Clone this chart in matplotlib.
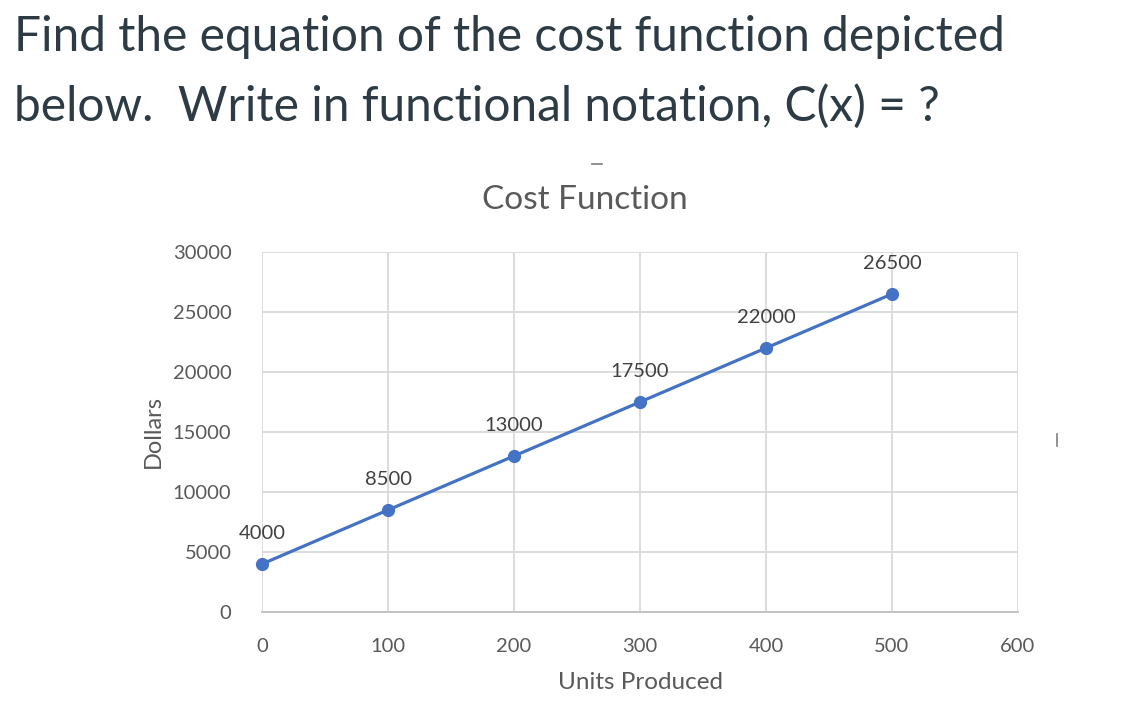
import matplotlib
matplotlib.use('Agg')
import matplotlib.pyplot as plt
from matplotlib.lines import Line2D

# data
units = [0, 100, 200, 300, 400, 500]
dollars = [4000, 8500, 13000, 17500, 22000, 26500]
x_ticks = [0, 100, 200, 300, 400, 500, 600]
y_ticks = [0, 5000, 10000, 15000, 20000, 25000, 30000]

chart_font = ['Lato', 'DejaVu Sans']
grey = '#595959'
blue = '#4472C4'

fig = plt.figure(figsize=(11.4, 7.18), dpi=100)
fig.patch.set_facecolor('white')

# question text above the chart
q_font = dict(family=['Lato', 'DejaVu Sans'], size=34.5, color='#2D3B45')
fig.text(14 / 1140, 1 - 37 / 718, 'Find the equation of the cost function depicted',
         va='center', ha='left', **q_font)
fig.text(14 / 1140, 1 - 106 / 718, 'below.  Write in functional notation, C(x) = ?',
         va='center', ha='left', **q_font)

ax = fig.add_axes([262 / 1140, 1 - 612 / 718, 756 / 1140, 360 / 718])
ax.plot(units, dollars, color=blue, lw=2.3, marker='o', ms=8.5, zorder=3,
        clip_on=False)
for u, d in zip(units, dollars):
    ax.annotate(str(d), (u, d), xytext=(0, 22), textcoords='offset points',
                ha='center', va='center', fontsize=14.5, color='#404040',
                family=chart_font)

ax.set_xlim(0, 600)
ax.set_ylim(0, 30000)
ax.set_xticks(x_ticks)
ax.set_yticks(y_ticks)
ax.set_xticklabels([str(t) for t in x_ticks], family=chart_font)
ax.set_yticklabels([str(t) for t in y_ticks], family=chart_font)
ax.tick_params(axis='both', length=0, labelsize=14.5, labelcolor=grey)
ax.tick_params(axis='x', pad=19)
ax.tick_params(axis='y', pad=22)
ax.grid(True, color='#D9D9D9', lw=1.3)
ax.set_axisbelow(True)
for s in ['top', 'right', 'left']:
    ax.spines[s].set_visible(False)
ax.spines['bottom'].set_color('#BFBFBF')
ax.spines['bottom'].set_linewidth(1.3)

ax.set_xlabel('Units Produced', fontsize=17.5, color=grey, family=chart_font,
              labelpad=12)
ax.set_ylabel('Dollars', fontsize=17, color=grey, family=chart_font,
              labelpad=6)

fig.text(585 / 1140, 1 - 200 / 718, 'Cost Function', ha='center', va='center',
         fontsize=24, color=grey, family=chart_font)

# small stray marks in the screenshot
fig.add_artist(Line2D([592 / 1140, 602 / 1140], [1 - 164 / 718, 1 - 164 / 718],
                      color='#7F7F7F', lw=1.2))
fig.add_artist(Line2D([1057 / 1140, 1057 / 1140], [1 - 434 / 718, 1 - 446 / 718],
                      color='#7F7F7F', lw=1.2))

fig.savefig('out.png', dpi=100)
